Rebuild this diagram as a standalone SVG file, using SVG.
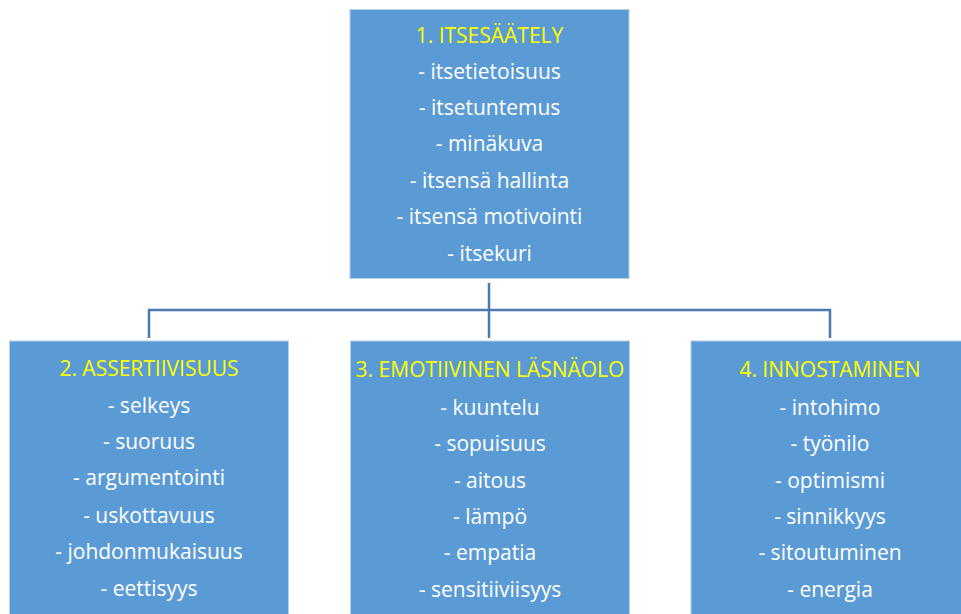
<svg xmlns="http://www.w3.org/2000/svg" width="961" height="614" viewBox="0 0 961 614">
<style>
.box{fill:#5b9bd5;stroke:#b4cfec;stroke-width:1}
.t{font-family:"Open Sans","Noto Sans",sans-serif;font-size:21px;fill:#ffffff;text-anchor:middle}
.h{fill:#ffff00}
.c{stroke:#4a7ab0;stroke-width:2.5;fill:none}
</style>
<rect width="961" height="614" fill="#ffffff"/>
<g id="connectors">
<path class="c" d="M149,338 V310 H830 V338"/>
<path class="c" d="M489,283 V338"/>
</g>
<g id="n1">
<rect class="box" x="350" y="9.5" width="279" height="269"/>
<text class="t h" x="489.5" y="42.5">1. ITSESÄÄTELY</text>
<text class="t" x="489.5" y="78.5">- itsetietoisuus</text>
<text class="t" x="489.5" y="114.5">- itsetuntemus</text>
<text class="t" x="489.5" y="150.5">- minäkuva</text>
<text class="t" x="489.5" y="187.5">- itsensä hallinta</text>
<text class="t" x="489.5" y="223.5">- itsensä motivointi</text>
<text class="t" x="489.5" y="260.5">- itsekuri</text>
</g>
<g id="n2">
<rect class="box" x="9.5" y="341" width="279" height="280"/>
<text class="t h" x="149" y="375.5">2. ASSERTIIVISUUS</text>
<text class="t" x="149" y="412.5">- selkeys</text>
<text class="t" x="149" y="448.5">- suoruus</text>
<text class="t" x="149" y="484.5">- argumentointi</text>
<text class="t" x="149" y="522.5">- uskottavuus</text>
<text class="t" x="149" y="558.5">- johdonmukaisuus</text>
<text class="t" x="149" y="595.5">- eettisyys</text>
</g>
<g id="n3">
<rect class="box" x="350.5" y="341" width="279" height="280"/>
<text class="t h" x="490" y="376.5">3. EMOTIIVINEN LÄSNÄOLO</text>
<text class="t" x="490" y="414.5">- kuuntelu</text>
<text class="t" x="490" y="450.5">- sopuisuus</text>
<text class="t" x="490" y="487.5">- aitous</text>
<text class="t" x="490" y="523.5">- lämpö</text>
<text class="t" x="490" y="559.5">- empatia</text>
<text class="t" x="490" y="596.5">- sensitiiviisyys</text>
</g>
<g id="n4">
<rect class="box" x="691" y="341" width="280" height="280"/>
<text class="t h" x="830" y="376.5">4. INNOSTAMINEN</text>
<text class="t" x="830" y="414.5">- intohimo</text>
<text class="t" x="830" y="450.5">- työnilo</text>
<text class="t" x="830" y="487.5">- optimismi</text>
<text class="t" x="830" y="523.5">- sinnikkyys</text>
<text class="t" x="830" y="559.5">- sitoutuminen</text>
<text class="t" x="830" y="596.5">- energia</text>
</g>
</svg>
